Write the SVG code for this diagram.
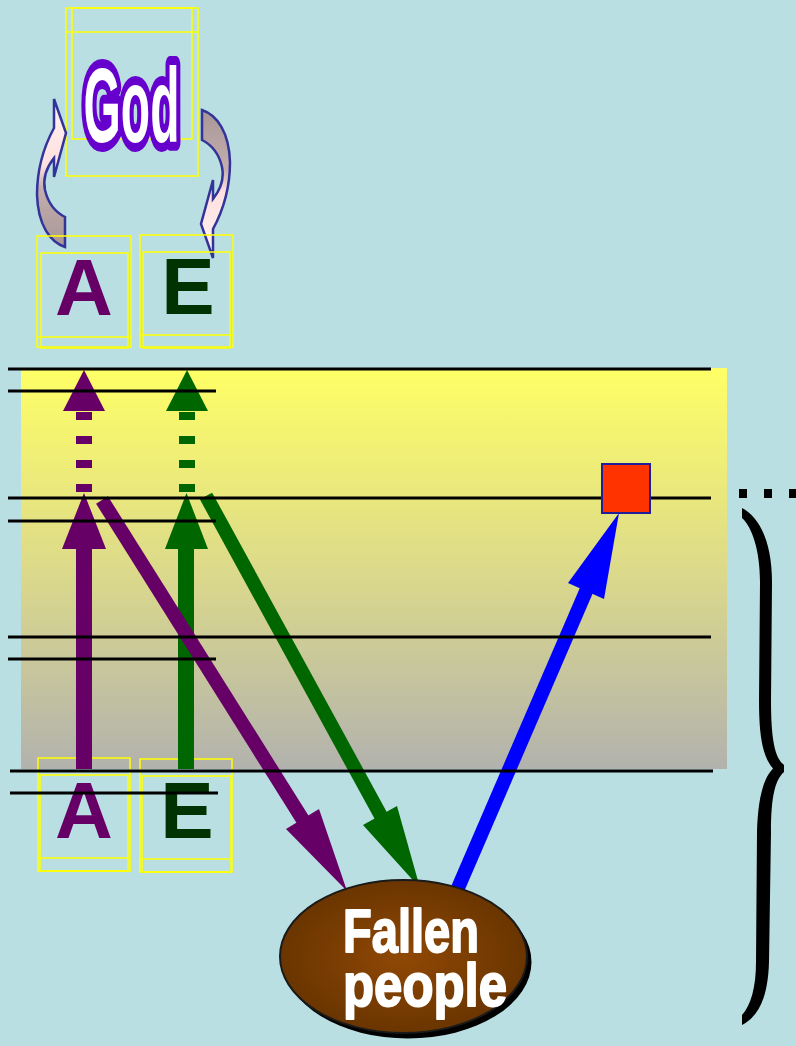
<svg xmlns="http://www.w3.org/2000/svg" width="796" height="1046" viewBox="0 0 796 1046">
<style>
.ybox{fill:none;stroke:#FFFF00;stroke-width:1.5}
.rule{stroke:#000;stroke-width:3}
.curv{stroke:#333399;stroke-width:2.5;stroke-linejoin:miter}
.letter{font-family:"Liberation Sans",Arial,sans-serif;font-weight:bold;font-size:80px;text-anchor:middle}
.purp{fill:#660066}
.grn{fill:#006600}
.blu{fill:#0000FF}
.fp{font-family:"Liberation Sans",Arial,sans-serif;font-weight:bold;fill:#FFFFFF;stroke:#FFFFFF;stroke-width:2;stroke-linejoin:round}
</style>
<defs>
<linearGradient id="band" x1="0" y1="0" x2="0" y2="1">
<stop offset="0" stop-color="#FFFF66"/>
<stop offset="0.5" stop-color="#DCDA8A"/>
<stop offset="1" stop-color="#B2B2AE"/>
</linearGradient>
<linearGradient id="curvFill" x1="0" y1="1" x2="0" y2="0">
<stop offset="0" stop-color="#A89696"/>
<stop offset="0.4" stop-color="#C4AEAE"/>
<stop offset="0.55" stop-color="#FFE0E0"/>
<stop offset="1" stop-color="#FFF2F2"/>
</linearGradient>
<radialGradient id="brown" cx="0.5" cy="0.5" r="0.5">
<stop offset="0" stop-color="#904805"/>
<stop offset="1" stop-color="#6A3500"/>
</radialGradient>
</defs>
<rect x="0" y="0" width="796" height="1046" fill="#B9DFE2"/>
<rect x="21" y="368" width="706" height="401" fill="url(#band)"/>

<g id="god">
<rect class="ybox" x="66" y="8" width="132" height="168"/>
<rect class="ybox" x="72" y="8" width="120" height="131"/>
<line class="ybox" x1="66" y1="32" x2="198" y2="32"/>
<text x="131.5" y="142" font-family="'Liberation Sans',Arial,sans-serif" font-weight="bold" font-size="105" text-anchor="middle" textLength="96" lengthAdjust="spacingAndGlyphs" fill="#FFFFFF" stroke="#6600CC" stroke-width="18" stroke-linejoin="round" paint-order="stroke">God</text>
</g>

<g id="curved-arrows">
<path id="curve-left" class="curv" fill="url(#curvFill)" d="M65,247 C50,242 38,225 37,195 C37,170 42,150 54,128 L54,99 L66,133 L54,177 L54,158 C46,168 43,180 45,190 C48,203 55,212 65,217 Z"/>
<path id="curve-right" class="curv" fill="url(#curvFill)" transform="rotate(180 133.5 178.5)" d="M65,247 C50,242 38,225 37,195 C37,170 42,150 54,128 L54,99 L66,133 L54,177 L54,158 C46,168 43,180 45,190 C48,203 55,212 65,217 Z"/>
</g>

<g id="top-A">
<rect class="ybox" x="37" y="236" width="94" height="111"/>
<rect class="ybox" x="41" y="253" width="87" height="95"/>
<line class="ybox" x1="37" y1="337" x2="131" y2="337"/>
<text class="letter" x="84" y="315" fill="#660066">A</text>
</g>
<g id="top-E">
<rect class="ybox" x="140" y="235" width="93" height="112"/>
<rect class="ybox" x="143" y="252" width="87" height="96"/>
<line class="ybox" x1="140" y1="335" x2="233" y2="335"/>
<text class="letter" x="188" y="314" fill="#003300">E</text>
</g>

<g id="bottom-A">
<rect class="ybox" x="38" y="758" width="92" height="113"/>
<rect class="ybox" x="40" y="775" width="88" height="96"/>
<line class="ybox" x1="38" y1="858" x2="130" y2="858"/>
<text class="letter" x="84" y="838" fill="#660066">A</text>
</g>
<g id="bottom-E">
<rect class="ybox" x="140" y="759" width="92" height="113"/>
<rect class="ybox" x="142" y="776" width="89" height="96"/>
<line class="ybox" x1="140" y1="859" x2="232" y2="859"/>
<text class="letter" x="187" y="838" fill="#003300">E</text>
</g>

<g id="connectors">
<line x1="84" y1="412" x2="84" y2="492" stroke="#660066" stroke-width="16" stroke-dasharray="8 16"/>
<polygon class="purp" points="63,411 105,411 84,370"/>
<line x1="187" y1="412" x2="187" y2="492" stroke="#006600" stroke-width="16" stroke-dasharray="8 16"/>
<polygon class="grn" points="166,411 208,411 187,370"/>
<rect class="purp" x="76" y="548" width="16" height="221"/>
<polygon class="purp" points="62,549 106,549 84,493"/>
<rect class="grn" x="178" y="548" width="16" height="221"/>
<polygon class="grn" points="165,549 208,549 186.5,493"/>
<line x1="102" y1="500" x2="303" y2="820" stroke="#660066" stroke-width="14"/>
<polygon class="purp" points="286,829 319,809 347,891"/>
<line x1="206" y1="496" x2="381" y2="816" stroke="#006600" stroke-width="14"/>
<polygon class="grn" points="363,825 397,806 420,888"/>
<line x1="455" y1="895" x2="587" y2="589" stroke="#0000FF" stroke-width="14"/>
<polygon class="blu" points="568,583 604,599 619,513"/>
</g>

<g id="rules">
<line class="rule" x1="8" y1="369" x2="711" y2="369"/>
<line class="rule" x1="8" y1="391" x2="216" y2="391"/>
<line class="rule" x1="8" y1="498" x2="711" y2="498"/>
<line class="rule" x1="8" y1="521" x2="216" y2="521"/>
<line class="rule" x1="8" y1="637" x2="711" y2="637"/>
<line class="rule" x1="8" y1="659" x2="216" y2="659"/>
<line class="rule" x1="10" y1="771" x2="713" y2="771"/>
<line class="rule" x1="10" y1="793" x2="218" y2="793"/>
</g>

<g id="red-square">
<rect x="602" y="464" width="48" height="49" fill="#FF3300" stroke="#1F1F99" stroke-width="2"/>
</g>

<g id="dots">
<line x1="739" y1="493.5" x2="796" y2="493.5" stroke="#000" stroke-width="9" stroke-dasharray="8 17"/>
</g>

<g id="brace">
<path fill="#000" d="M742,508 C761,518 772,545 772,582 L771,700 C771,740 775,758 784,765 L784,772 C775,780 771,797 771,832 L769,962 C768,997 759,1016 742,1025 L742,1015 C751,1005 756,987 756,962 L757,832 C758,796 764,778 773,768.5 C763,757 759,738 759,700 L760,582 C760,550 752,527 742,518 Z"/>
</g>

<g id="fallen-people">
<ellipse cx="408" cy="962" rx="123.5" ry="76.5" fill="#000"/>
<ellipse cx="403.5" cy="956.5" rx="123.5" ry="76.5" fill="url(#brown)" stroke="#1A1A1A" stroke-width="2"/>
<text class="fp" x="343" y="952" font-size="62" textLength="136" lengthAdjust="spacingAndGlyphs">Fallen</text>
<text class="fp" x="343" y="1006" font-size="62" textLength="164" lengthAdjust="spacingAndGlyphs">people</text>
</g>
</svg>
